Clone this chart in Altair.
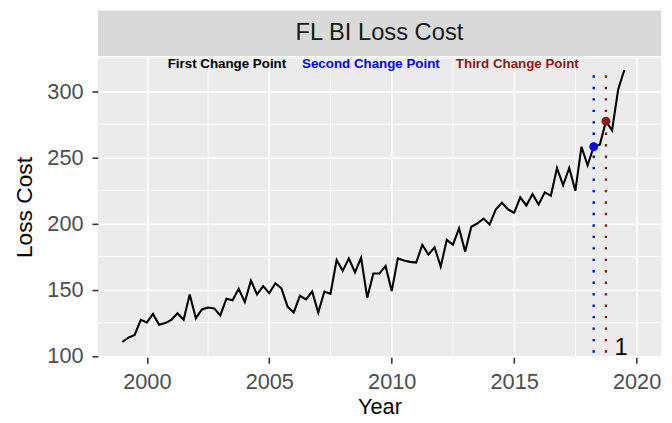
import altair as alt
import pandas as pd

# ---------------- data ----------------
start_year = 1999
quarters = [0.0, 0.25, 0.5, 0.75]
loss_cost = [
    110.4, 113.8, 115.8, 127.2,
    125.2, 131.6, 123.5, 124.7,
    127.2, 132.1, 127.2, 146.4,
    128.4, 135.0, 136.5, 135.8,
    130.5, 143.2, 142.0, 150.6,
    140.7, 156.8, 146.4, 152.6,
    147.4, 154.8, 150.8, 137.0,
    132.8, 145.3, 142.7, 148.6,
    132.7, 148.6, 146.9, 172.4,
    164.2, 173.6, 163.0, 174.0,
    143.9, 162.2, 162.2, 167.9,
    148.9, 173.6, 172.0, 171.0,
    170.4, 183.9, 176.5, 182.0,
    167.4, 187.6, 183.9, 196.3,
    178.8, 197.5, 200.0, 203.7,
    199.3, 210.6, 215.6, 210.6,
    208.1, 219.7, 213.6, 222.2,
    214.3, 223.5, 221.0, 242.0,
    228.9, 242.0, 224.7, 258.0,
    244.0, 258.0, 259.5, 277.3,
    270.4, 301.3, 316.0,
]
years = [start_year + i // 4 + quarters[i % 4] for i in range(len(loss_cost))]

change_years = [2018.25, 2018.75]
change_values = [258.0, 277.3]
change_colors = ["#0000FF", "#8B1A1A"]
vline_top = 312
vline_bottom = 99

ann_labels = ["First Change Point", "Second Change Point", "Third Change Point"]
ann_years = [2003.27, 2009.15, 2015.13]
ann_value = 320.7
ann_colors = ["#000000", "#0000FF", "#8B1A1A"]

count_label = "1"
count_year = 2019.1
count_value = 105.8

strip_title = "FL BI Loss Cost"
x_ticks = [2000, 2005, 2010, 2015, 2020]
y_ticks = [100, 150, 200, 250, 300]
x_minor = [2002.5, 2007.5, 2012.5, 2017.5]
y_minor = [125, 175, 225, 275, 325]

FONT = "Liberation Sans"
W, H = 570, 304

# ---------------- chart ----------------
xscale = alt.Scale(domain=[1998.0, 2021.0], nice=False, zero=False)
yscale = alt.Scale(domain=[98.9, 325.9], nice=False, zero=False)

xaxis = alt.Axis(values=x_ticks, format="d", title="Year")
yaxis = alt.Axis(values=y_ticks, format="d", title="Loss Cost")

df = pd.DataFrame({"Year": years, "Loss Cost": loss_cost})
minor_x_df = pd.DataFrame({"Year": x_minor})
minor_y_df = pd.DataFrame({"Loss Cost": y_minor})
cp_df = pd.DataFrame({"Year": change_years, "Loss Cost": change_values,
                      "top": [vline_top] * 2, "bottom": [vline_bottom] * 2,
                      "color": change_colors})
ann_df = pd.DataFrame({"Year": ann_years, "Loss Cost": [ann_value] * 3,
                       "label": ann_labels, "color": ann_colors})
cnt_df = pd.DataFrame({"Year": [count_year], "Loss Cost": [count_value], "label": [count_label]})
strip_df = pd.DataFrame({"label": [strip_title]})

X = alt.X("Year:Q", scale=xscale, axis=xaxis)
Y = alt.Y("Loss Cost:Q", scale=yscale, axis=yaxis)

minor_x = alt.Chart(minor_x_df).mark_rule(color="white", strokeWidth=0.8).encode(x=X)
minor_y = alt.Chart(minor_y_df).mark_rule(color="white", strokeWidth=0.8).encode(y=Y)

line = alt.Chart(df).mark_line(color="black", strokeWidth=2.1).encode(x=X, y=Y)

vlines = alt.Chart(cp_df).mark_rule(strokeWidth=2.4, strokeDash=[2.4, 9.2], clip=True).encode(
    x=X,
    y=alt.Y("top:Q", scale=yscale, axis=yaxis),
    y2="bottom:Q",
    color=alt.Color("color:N", scale=None),
)

points = alt.Chart(cp_df).mark_circle(size=80, opacity=1).encode(
    x=X, y=Y, color=alt.Color("color:N", scale=None)
)

ann = alt.Chart(ann_df).mark_text(font=FONT, fontSize=13.5, fontWeight="bold", baseline="middle").encode(
    x=X, y=Y, text="label:N", color=alt.Color("color:N", scale=None)
)

cnt = alt.Chart(cnt_df).mark_text(font=FONT, fontSize=24, color="black", baseline="middle", align="left").encode(
    x=X, y=Y, text="label:N"
)

strip = alt.Chart(strip_df).mark_rect(color="#D9D9D9").encode(
    x=alt.value(0), x2=alt.value(W), y=alt.value(-47), y2=alt.value(-1)
)
strip_text = alt.Chart(strip_df).mark_text(font=FONT, fontSize=24, color="#1A1A1A", baseline="middle").encode(
    x=alt.value(W / 2), y=alt.value(-24), text="label:N"
)

chart = alt.layer(
    minor_x, minor_y, line, vlines, points, ann, cnt, strip, strip_text
).properties(
    width=W, height=H,
    padding={"left": 91, "top": 47, "right": 3, "bottom": 60},
    autosize=alt.AutoSizeParams(type="none"),
    background="white",
).configure_view(
    fill="#EBEBEB", stroke=None
).configure_axis(
    domain=False,
    grid=True, gridColor="white", gridWidth=1.6,
    labelFont=FONT, labelFontSize=22, labelColor="#4D4D4D",
    tickColor="#333333", tickWidth=1.6, tickSize=6,
    titleFont=FONT, titleFontSize=23, titleColor="black", titleFontWeight="normal",
).configure_axisX(
    labelPadding=9, titleFontSize=22, titleBaseline="alphabetic", titleY=57,
).configure_axisY(
    labelPadding=9, titlePadding=11,
)

chart.save("out.html", embed_options={"renderer": "svg", "actions": False})
